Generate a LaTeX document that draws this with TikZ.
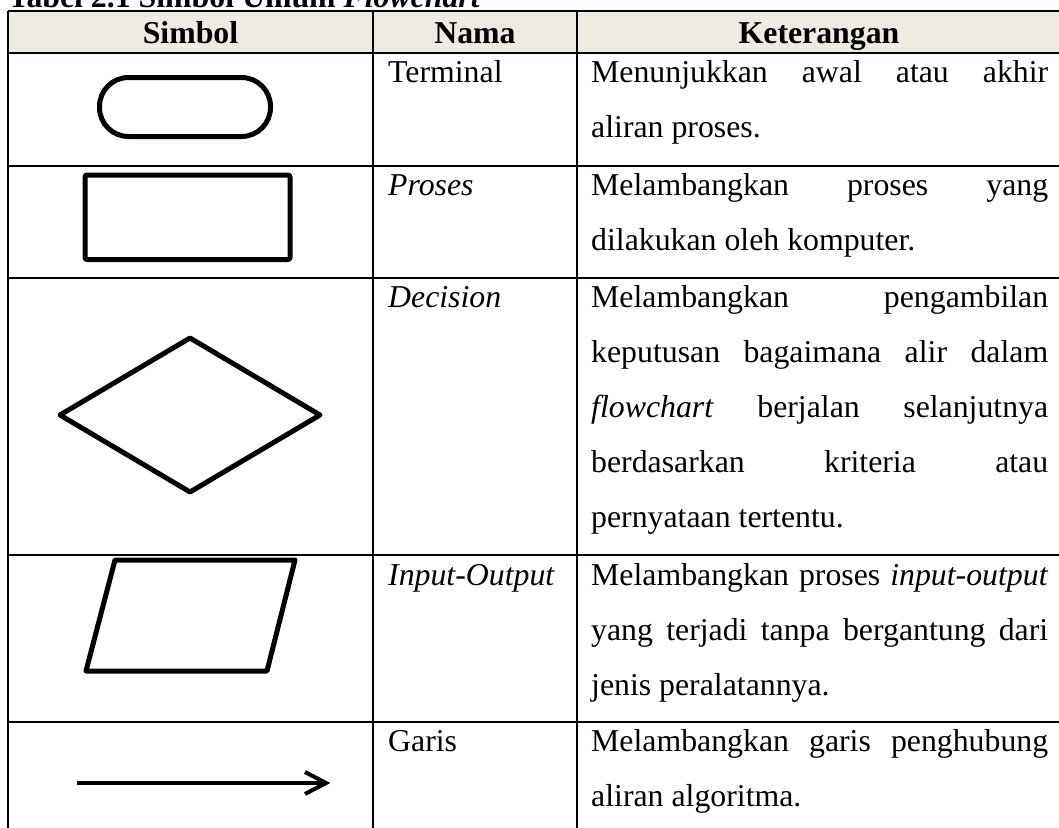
\documentclass[tikz,border=0pt]{standalone}
\usepackage{fontspec}
\setmainfont{Liberation Serif}
\definecolor{hdrfill}{HTML}{EEECE1}
\newcommand\jline[1]{\makebox[457pt][s]{#1}}
\begin{document}
\begin{tikzpicture}[x=1pt,y=-1pt,
  grid/.style={line width=2pt},
  sym/.style={line width=5pt,line join=round},
  txt/.style={anchor=base west,inner sep=0pt,font=\fontsize{31.8}{55}\selectfont},
  hd/.style={anchor=base,inner sep=0pt,font=\fontsize{31.8}{55}\selectfont\bfseries}]
\useasboundingbox (0,0) rectangle (1059,827);
\clip (0,0) rectangle (1059,827);
% header background
\fill[hdrfill] (8,11) rectangle (1062,53);
% grid
\foreach \yy in {11,53,166,278,555,722}
  \draw[grid] (8,\yy) -- (1062,\yy);
\foreach \xx in {8,373,577,1062}
  \draw[grid] (\xx,11) -- (\xx,830);
% caption
\node[anchor=base west,inner sep=0pt,font=\fontsize{31.8}{55}\selectfont\bfseries] (cap) at (8,7) {Tabel 2.1 Simbol Umum \textit{Flowchart}};
% header
\node[hd] (h1) at (190.5,43) {Simbol};
\node[hd] (h2) at (475,43) {Nama};
\node[hd] (h3) at (819,43) {Keterangan};
% row 1 terminal
\draw[sym,rounded corners=29pt] (99.5,77.5) rectangle (270.5,136.5);
\node[txt] (n1) at (388,82) {Terminal};
\node[txt] (k1a) at (591,82) {\jline{Menunjukkan awal atau akhir}};
\node[txt] (k1b) at (591,137) {aliran proses.};
% row 2 proses
\draw[sym,rounded corners=2pt] (85,175) rectangle (290,259.5);
\node[txt] (n2) at (388,195) {\textit{Proses}};
\node[txt] (k2a) at (591,195) {\jline{Melambangkan proses yang}};
\node[txt] (k2b) at (591,250) {dilakukan oleh komputer.};
% row 3 decision
\draw[sym] (190,338) -- (320,415) -- (190,492) -- (60,415) -- cycle;
\node[txt] (n3) at (388,307) {\textit{Decision}};
\node[txt] (k3a) at (591,307) {\jline{Melambangkan pengambilan}};
\node[txt] (k3b) at (591,362) {\jline{keputusan bagaimana alir dalam}};
\node[txt] (k3c) at (591,417) {\jline{\textit{flowchart} berjalan selanjutnya}};
\node[txt] (k3d) at (591,472) {\jline{berdasarkan kriteria atau}};
\node[txt] (k3e) at (591,527) {pernyataan tertentu.};
% row 4 input-output
\draw[sym] (115,560) -- (295,560) -- (267,671) -- (86,671) -- cycle;
\node[txt] (n4) at (388,585) {\textit{Input-Output}};
\node[txt] (k4a) at (591,585) {\jline{Melambangkan proses \textit{input-output}}};
\node[txt] (k4b) at (591,640) {\jline{yang terjadi tanpa bergantung dari}};
\node[txt] (k4c) at (591,695) {jenis peralatannya.};
% row 5 garis
\draw[line width=4pt] (77,783) -- (323,783);
\draw[line width=4pt,line join=miter] (305,772) -- (326,783) -- (305,794);
\node[txt] (n5) at (388,751) {Garis};
\node[txt] (k5a) at (591,751) {\jline{Melambangkan garis penghubung}};
\node[txt] (k5b) at (591,806) {aliran algoritma.};
\end{tikzpicture}
\end{document}
